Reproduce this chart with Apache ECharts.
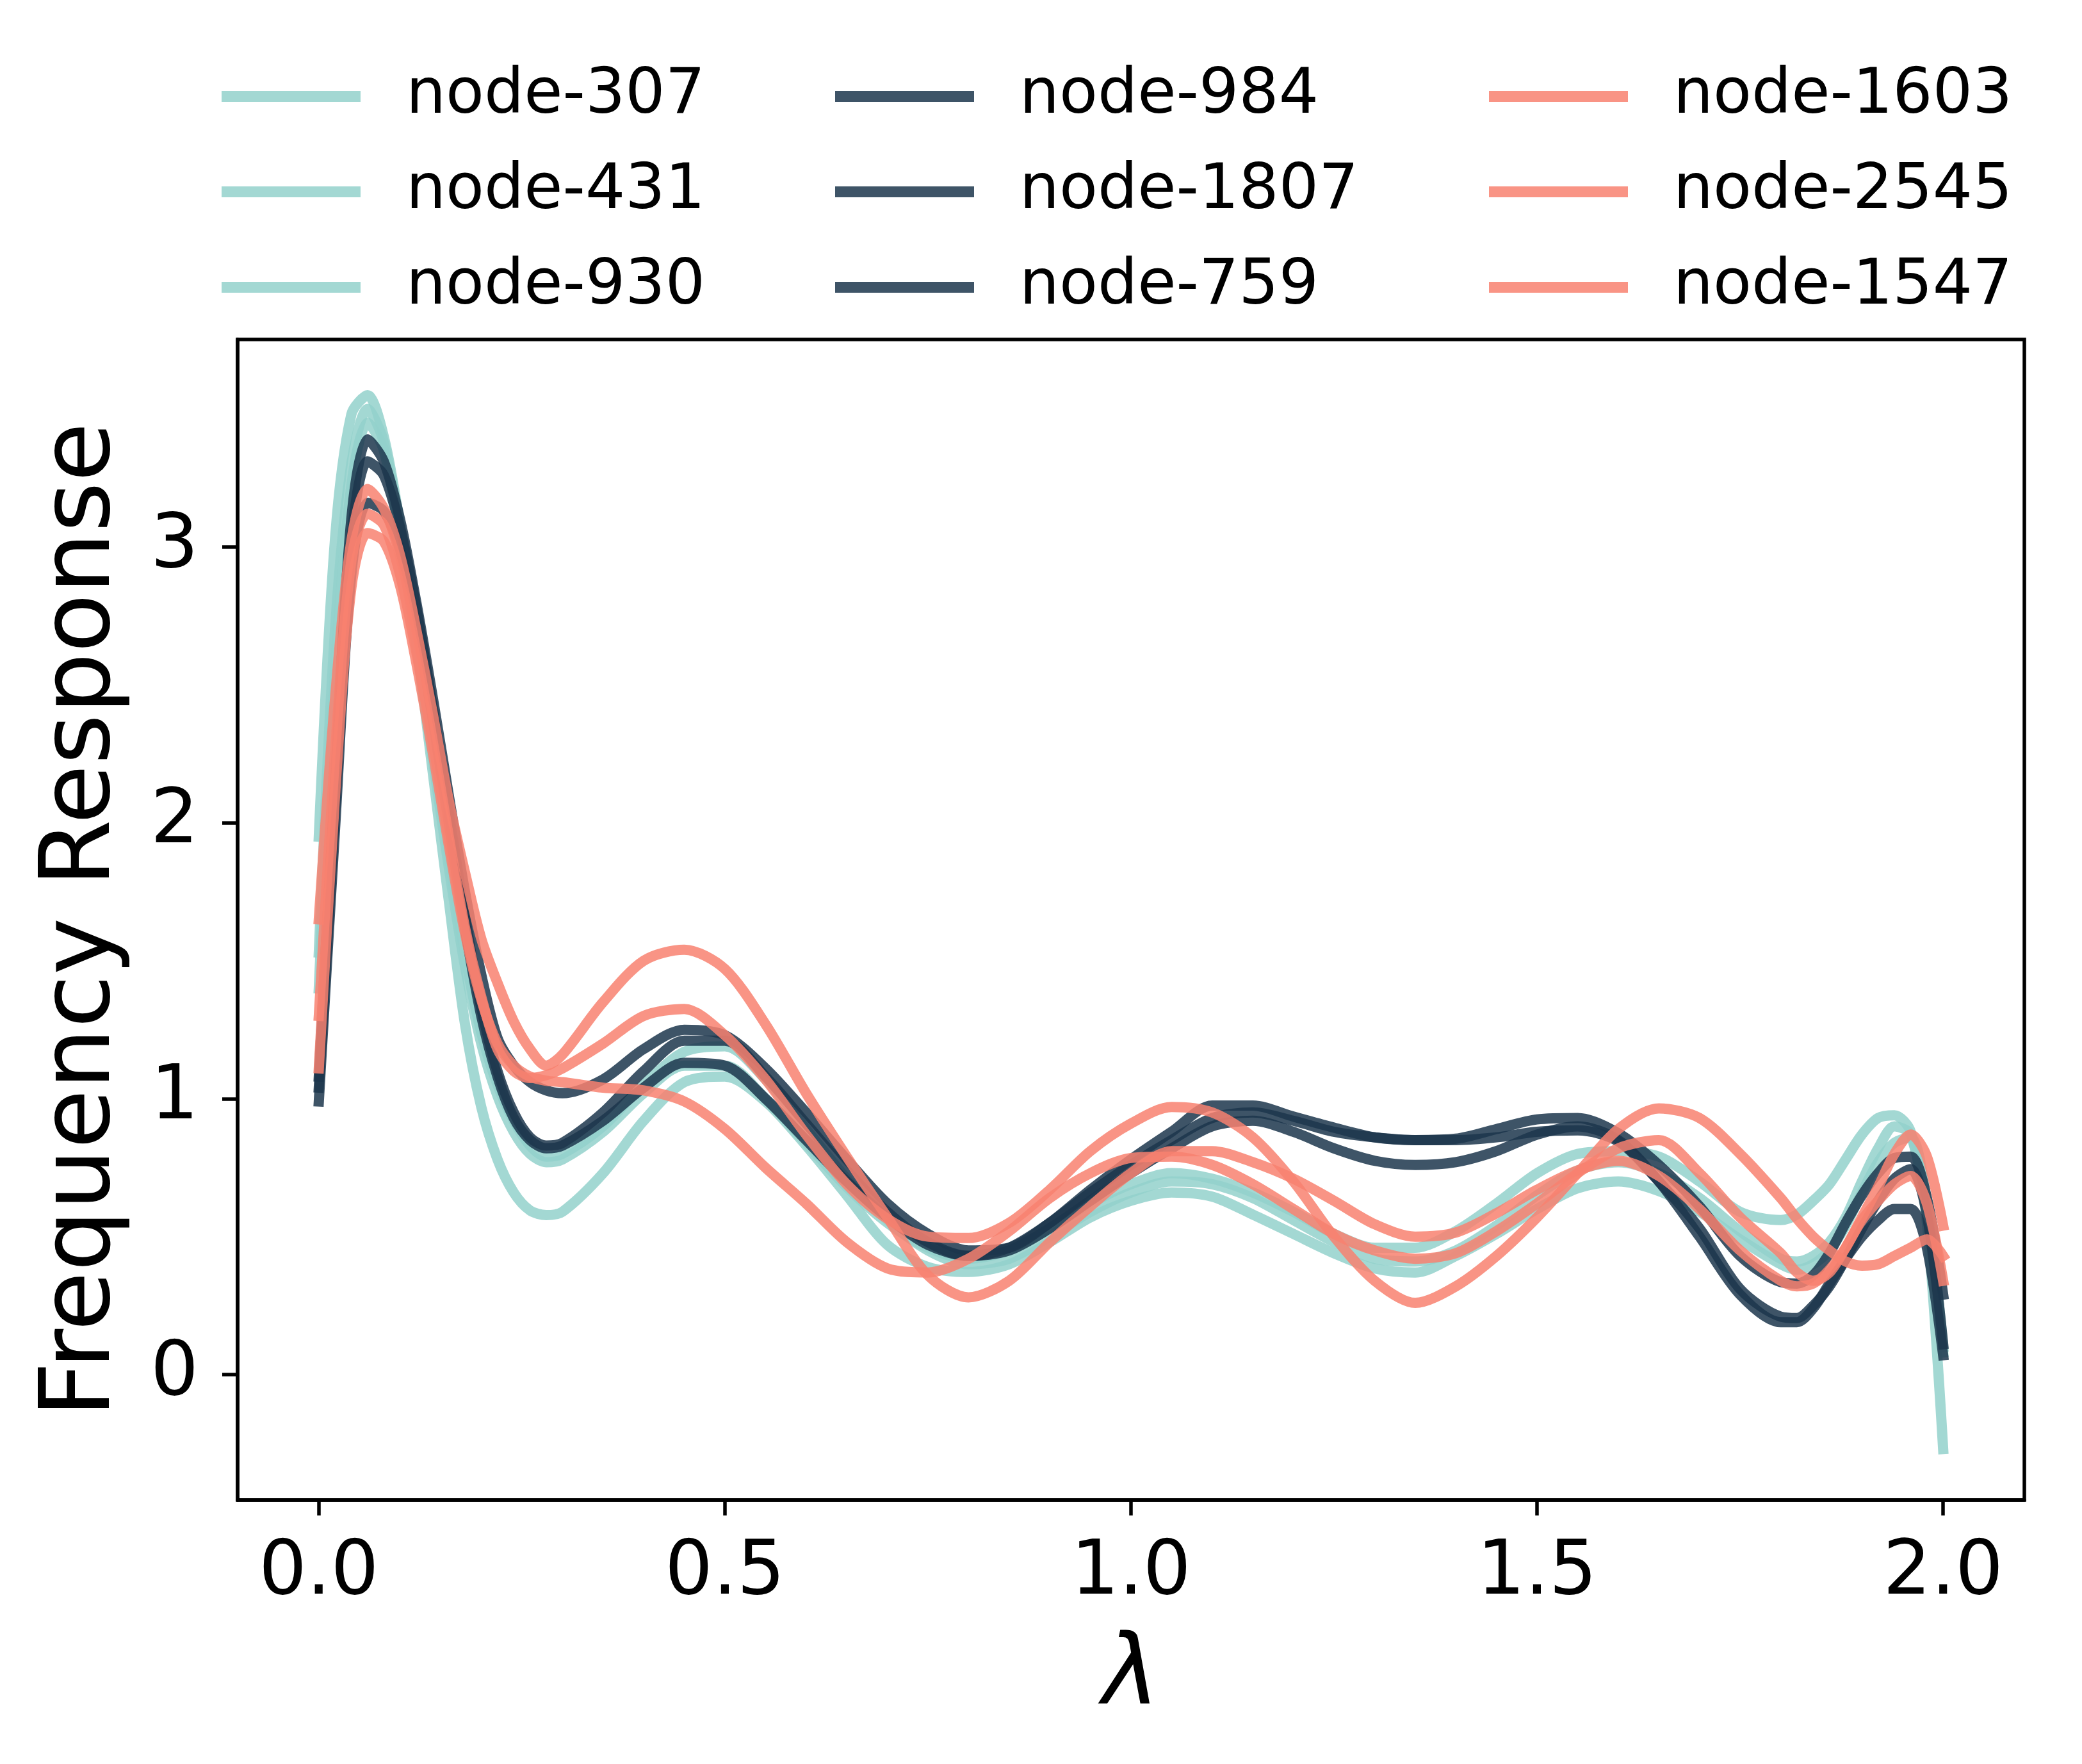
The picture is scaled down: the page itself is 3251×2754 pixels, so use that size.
<!DOCTYPE html>
<html lang="en">
<head>
  <meta charset="UTF-8">
  <title>Frequency Response</title>
  <script src="https://cdn.jsdelivr.net/npm/echarts@6/dist/echarts.min.js"></script>
  <style>
    body { margin: 0; background: #fff; }
    #chart { width: 3251px; height: 2754px; }
  </style>
</head>
<body>
<div id="chart"></div>
<script>
  // lambda sample points (denser near the peak and the right end)
  var lambdas = [0, 0.02, 0.04, 0.06, 0.08, 0.10, 0.12, 0.14, 0.16, 0.18, 0.20, 0.22, 0.24, 0.26, 0.28, 0.30,
    0.35, 0.40, 0.45, 0.50, 0.55, 0.60, 0.65, 0.70, 0.75, 0.80, 0.85, 0.90, 0.95, 1.00, 1.05, 1.10, 1.15, 1.20,
    1.25, 1.30, 1.35, 1.40, 1.45, 1.50, 1.55, 1.60, 1.65, 1.70, 1.75, 1.80,
    1.82, 1.84, 1.86, 1.88, 1.90, 1.92, 1.94, 1.96, 1.98, 2.00];

  var node307 = [1.95, 3.03, 3.48, 3.55, 3.40, 3.08, 2.66, 2.19, 1.72, 1.27, 0.97, 0.78, 0.66, 0.595, 0.578, 0.59,
    0.73, 0.92, 1.06, 1.08, 0.99, 0.83, 0.65, 0.47, 0.39, 0.372, 0.40, 0.48, 0.57, 0.63, 0.66, 0.645, 0.58, 0.51,
    0.44, 0.385, 0.37, 0.43, 0.51, 0.60, 0.675, 0.70, 0.665, 0.59, 0.49, 0.40,
    0.38, 0.40, 0.45, 0.54, 0.66, 0.77, 0.84, 0.86, 0.62, 0.10];
  var node431 = [1.53, 2.70, 3.30, 3.50, 3.38, 3.06, 2.68, 2.28, 1.88, 1.52, 1.24, 1.05, 0.92, 0.83, 0.79, 0.80,
    0.90, 1.05, 1.17, 1.19, 1.07, 0.89, 0.71, 0.56, 0.45, 0.40, 0.42, 0.50, 0.59, 0.66, 0.70, 0.69, 0.64, 0.56,
    0.48, 0.42, 0.41, 0.45, 0.54, 0.65, 0.74, 0.77, 0.73, 0.64, 0.52, 0.42,
    0.41, 0.43, 0.48, 0.57, 0.70, 0.82, 0.90, 0.87, 0.58, 0.08];
  var node930 = [1.40, 2.55, 3.22, 3.45, 3.35, 3.03, 2.64, 2.24, 1.84, 1.48, 1.20, 1.01, 0.88, 0.80, 0.77, 0.78,
    0.88, 1.02, 1.12, 1.12, 1.00, 0.84, 0.68, 0.55, 0.46, 0.42, 0.45, 0.53, 0.62, 0.69, 0.73, 0.71, 0.66, 0.59,
    0.51, 0.46, 0.46, 0.52, 0.62, 0.73, 0.80, 0.81, 0.79, 0.70, 0.59, 0.56,
    0.58, 0.63, 0.69, 0.78, 0.87, 0.93, 0.94, 0.88, 0.55, -0.27];

  var node984 = [1.08, 2.15, 3.10, 3.39, 3.31, 3.10, 2.80, 2.46, 2.10, 1.75, 1.45, 1.22, 1.12, 1.06, 1.03, 1.02,
    1.07, 1.18, 1.25, 1.23, 1.11, 0.95, 0.78, 0.62, 0.51, 0.45, 0.46, 0.55, 0.67, 0.78, 0.88, 0.975, 0.975, 0.935,
    0.895, 0.86, 0.85, 0.855, 0.89, 0.925, 0.93, 0.875, 0.76, 0.61, 0.43, 0.335,
    0.33, 0.36, 0.44, 0.55, 0.65, 0.73, 0.785, 0.79, 0.64, 0.29];
  var node1807 = [1.04, 2.05, 3.02, 3.31, 3.26, 3.07, 2.78, 2.42, 2.04, 1.66, 1.33, 1.10, 0.95, 0.86, 0.83, 0.84,
    0.95, 1.10, 1.21, 1.21, 1.08, 0.91, 0.74, 0.59, 0.48, 0.43, 0.46, 0.55, 0.66, 0.76, 0.85, 0.93, 0.95, 0.92,
    0.88, 0.86, 0.85, 0.85, 0.86, 0.88, 0.885, 0.845, 0.70, 0.53, 0.31, 0.21,
    0.205, 0.25, 0.32, 0.42, 0.53, 0.63, 0.71, 0.745, 0.58, 0.11];
  var node759 = [0.99, 1.98, 2.90, 3.16, 3.13, 2.99, 2.72, 2.38, 2.00, 1.62, 1.30, 1.08, 0.93, 0.85, 0.82, 0.83,
    0.92, 1.04, 1.13, 1.12, 1.00, 0.85, 0.70, 0.57, 0.47, 0.43, 0.45, 0.53, 0.63, 0.73, 0.82, 0.90, 0.92, 0.88,
    0.82, 0.775, 0.76, 0.77, 0.81, 0.87, 0.90, 0.85, 0.70, 0.50, 0.29, 0.19,
    0.19, 0.24, 0.33, 0.42, 0.50, 0.56, 0.60, 0.60, 0.46, 0.07];

  var node1603 = [1.65, 2.45, 3.02, 3.21, 3.14, 2.97, 2.70, 2.40, 2.08, 1.82, 1.58, 1.42, 1.28, 1.18, 1.12, 1.16,
    1.35, 1.50, 1.54, 1.47, 1.27, 1.02, 0.79, 0.57, 0.36, 0.28, 0.34, 0.48, 0.61, 0.73, 0.81, 0.81, 0.77, 0.71,
    0.63, 0.545, 0.50, 0.515, 0.585, 0.67, 0.74, 0.775, 0.72, 0.60, 0.45, 0.34,
    0.32, 0.33, 0.38, 0.46, 0.57, 0.68, 0.80, 0.87, 0.79, 0.54];
  var node2545 = [1.30, 2.25, 2.95, 3.12, 3.08, 2.90, 2.62, 2.30, 1.95, 1.62, 1.37, 1.18, 1.10, 1.075, 1.085, 1.11,
    1.20, 1.30, 1.325, 1.23, 1.07, 0.87, 0.69, 0.565, 0.50, 0.495, 0.55, 0.67, 0.81, 0.91, 0.97, 0.95, 0.86, 0.70,
    0.50, 0.34, 0.26, 0.32, 0.43, 0.57, 0.73, 0.89, 0.965, 0.93, 0.80, 0.64,
    0.565, 0.50, 0.45, 0.41, 0.395, 0.40, 0.43, 0.46, 0.49, 0.43];
  var node1547 = [1.11, 2.10, 2.85, 3.05, 3.02, 2.86, 2.58, 2.26, 1.92, 1.60, 1.36, 1.20, 1.12, 1.08, 1.065, 1.06,
    1.04, 1.03, 0.99, 0.89, 0.75, 0.62, 0.48, 0.385, 0.37, 0.42, 0.52, 0.64, 0.73, 0.785, 0.79, 0.76, 0.69, 0.60,
    0.51, 0.45, 0.42, 0.44, 0.52, 0.62, 0.73, 0.82, 0.85, 0.73, 0.57, 0.44,
    0.37, 0.34, 0.37, 0.46, 0.56, 0.63, 0.69, 0.72, 0.62, 0.34];

  var xTicks = [0, 0.5, 1, 1.5, 2];
  var yTicks = [0, 1, 2, 3];

  var TEAL = 'rgba(147,209,203,0.85)';
  var DARK = 'rgba(28,54,76,0.85)';
  var SALMON = 'rgba(248,129,112,0.85)';

  var groups = [
    { names: ['node-307', 'node-431', 'node-930'], values: [node307, node431, node930], color: TEAL, left: 346 },
    { names: ['node-984', 'node-1807', 'node-759'], values: [node984, node1807, node759], color: DARK, left: 1304 },
    { names: ['node-1603', 'node-2545', 'node-1547'], values: [node1603, node2545, node1547], color: SALMON, left: 2325 }
  ];

  var FONT = 'DejaVu Sans';
  var series = [];
  var legends = [];
  groups.forEach(function (g) {
    g.names.forEach(function (name, k) {
      series.push({
        name: name,
        type: 'line',
        data: lambdas.map(function (x, i) { return [x, g.values[k][i]]; }),
        symbol: 'none',
        showSymbol: false,
        smooth: 0.3,
        lineStyle: { color: g.color, width: 16, cap: 'square', join: 'round' },
        itemStyle: { color: g.color },
        emphasis: { disabled: true }
      });
    });
    legends.push({
      data: g.names,
      orient: 'vertical',
      left: g.left,
      top: 76,
      padding: 0,
      itemGap: 0,
      icon: 'rect',
      itemWidth: 217,
      itemHeight: 17,
      itemStyle: { borderWidth: 0 },
      textStyle: { fontFamily: FONT, fontSize: 98, color: '#000', lineHeight: 149, padding: [0, 0, 0, 66] },
      selectedMode: false
    });
  });

  var chart = echarts.init(document.getElementById('chart'), null, { renderer: 'canvas' });
  chart.setOption({
    animation: false,
    backgroundColor: '#fff',
    legend: legends,
    grid: {
      left: 371, top: 530, width: 2790, height: 1812,
      show: true, borderColor: '#000', borderWidth: 5.5, backgroundColor: 'transparent'
    },
    xAxis: {
      type: 'value', min: -0.1, max: 2.1,
      name: 'λ', nameLocation: 'middle', nameGap: 203,
      nameTextStyle: { fontFamily: FONT, fontSize: 151, fontStyle: 'italic', color: '#000' },
      axisLine: { show: true, onZero: false, lineStyle: { color: '#000', width: 5.5 } },
      axisTick: { show: true, customValues: xTicks, length: 24, lineStyle: { color: '#000', width: 5.5 } },
      axisLabel: {
        customValues: xTicks, margin: 56, fontFamily: FONT, fontSize: 118, color: '#000',
        formatter: function (v) { return v.toFixed(1); }
      },
      splitLine: { show: false }
    },
    yAxis: {
      type: 'value', min: -0.455, max: 3.752,
      name: 'Frequency Response', nameLocation: 'middle', nameGap: 165,
      nameTextStyle: { fontFamily: FONT, fontSize: 151, color: '#000' },
      axisLine: { show: true, onZero: false, lineStyle: { color: '#000', width: 5.5 } },
      axisTick: { show: true, customValues: yTicks, length: 24, lineStyle: { color: '#000', width: 5.5 } },
      axisLabel: {
        customValues: yTicks, margin: 61, fontFamily: FONT, fontSize: 118, color: '#000',
        formatter: function (v) { return String(Math.round(v)); }
      },
      splitLine: { show: false }
    },
    series: series
  });
</script>
</body>
</html>
